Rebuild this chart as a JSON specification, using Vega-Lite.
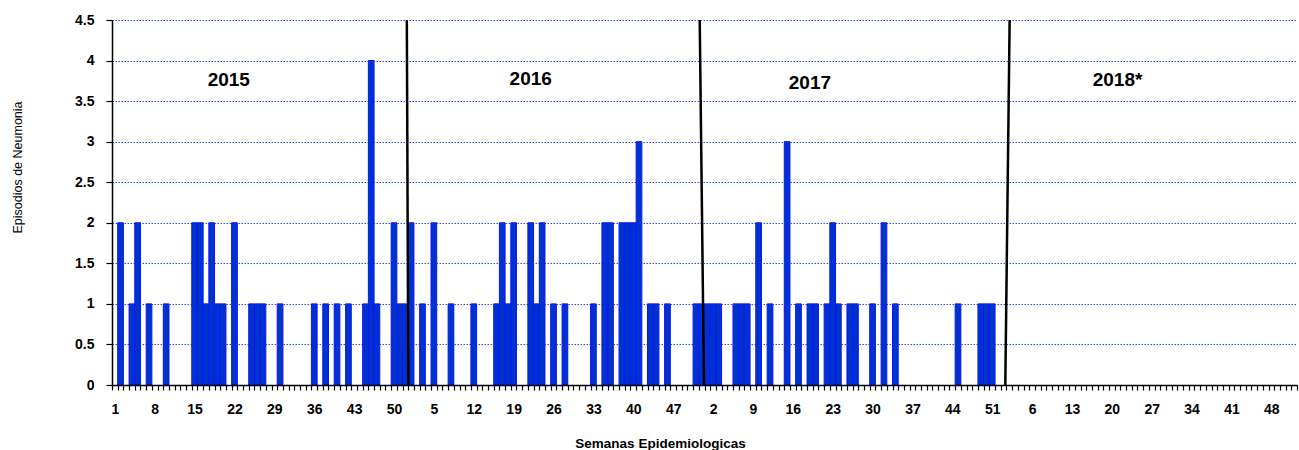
{
  "$schema": "https://vega.github.io/schema/vega-lite/v6.json",
  "width": 1185,
  "height": 365,
  "autosize": "none",
  "padding": {"left": 112, "top": 20, "right": 2, "bottom": 65},
  "background": "white",
  "config": {"view": {"stroke": null}, "font": "Liberation Sans"},
  "datasets": {
    "semanas": [
        {"k":"2015-01","v":0},{"k":"2015-02","v":2},{"k":"2015-03","v":0},{"k":"2015-04","v":1},{"k":"2015-05","v":2},{"k":"2015-06","v":0},{"k":"2015-07","v":1},{"k":"2015-08","v":0},{"k":"2015-09","v":0},{"k":"2015-10","v":1},
        {"k":"2015-11","v":0},{"k":"2015-12","v":0},{"k":"2015-13","v":0},{"k":"2015-14","v":0},{"k":"2015-15","v":2},{"k":"2015-16","v":2},{"k":"2015-17","v":1},{"k":"2015-18","v":2},{"k":"2015-19","v":1},{"k":"2015-20","v":1},
        {"k":"2015-21","v":0},{"k":"2015-22","v":2},{"k":"2015-23","v":0},{"k":"2015-24","v":0},{"k":"2015-25","v":1},{"k":"2015-26","v":1},{"k":"2015-27","v":1},{"k":"2015-28","v":0},{"k":"2015-29","v":0},{"k":"2015-30","v":1},
        {"k":"2015-31","v":0},{"k":"2015-32","v":0},{"k":"2015-33","v":0},{"k":"2015-34","v":0},{"k":"2015-35","v":0},{"k":"2015-36","v":1},{"k":"2015-37","v":0},{"k":"2015-38","v":1},{"k":"2015-39","v":0},{"k":"2015-40","v":1},
        {"k":"2015-41","v":0},{"k":"2015-42","v":1},{"k":"2015-43","v":0},{"k":"2015-44","v":0},{"k":"2015-45","v":1},{"k":"2015-46","v":4},{"k":"2015-47","v":1},{"k":"2015-48","v":0},{"k":"2015-49","v":0},{"k":"2015-50","v":2},
        {"k":"2015-51","v":1},{"k":"2015-52","v":1},
        {"k":"2016-01","v":2},{"k":"2016-02","v":0},{"k":"2016-03","v":1},{"k":"2016-04","v":0},{"k":"2016-05","v":2},{"k":"2016-06","v":0},{"k":"2016-07","v":0},{"k":"2016-08","v":1},{"k":"2016-09","v":0},{"k":"2016-10","v":0},
        {"k":"2016-11","v":0},{"k":"2016-12","v":1},{"k":"2016-13","v":0},{"k":"2016-14","v":0},{"k":"2016-15","v":0},{"k":"2016-16","v":1},{"k":"2016-17","v":2},{"k":"2016-18","v":1},{"k":"2016-19","v":2},{"k":"2016-20","v":0},
        {"k":"2016-21","v":0},{"k":"2016-22","v":2},{"k":"2016-23","v":1},{"k":"2016-24","v":2},{"k":"2016-25","v":0},{"k":"2016-26","v":1},{"k":"2016-27","v":0},{"k":"2016-28","v":1},{"k":"2016-29","v":0},{"k":"2016-30","v":0},
        {"k":"2016-31","v":0},{"k":"2016-32","v":0},{"k":"2016-33","v":1},{"k":"2016-34","v":0},{"k":"2016-35","v":2},{"k":"2016-36","v":2},{"k":"2016-37","v":0},{"k":"2016-38","v":2},{"k":"2016-39","v":2},{"k":"2016-40","v":2},
        {"k":"2016-41","v":3},{"k":"2016-42","v":0},{"k":"2016-43","v":1},{"k":"2016-44","v":1},{"k":"2016-45","v":0},{"k":"2016-46","v":1},{"k":"2016-47","v":0},{"k":"2016-48","v":0},{"k":"2016-49","v":0},{"k":"2016-50","v":0},
        {"k":"2016-51","v":1},{"k":"2016-52","v":1},
        {"k":"2017-01","v":1},{"k":"2017-02","v":1},{"k":"2017-03","v":1},{"k":"2017-04","v":0},{"k":"2017-05","v":0},{"k":"2017-06","v":1},{"k":"2017-07","v":1},{"k":"2017-08","v":1},{"k":"2017-09","v":0},{"k":"2017-10","v":2},
        {"k":"2017-11","v":0},{"k":"2017-12","v":1},{"k":"2017-13","v":0},{"k":"2017-14","v":0},{"k":"2017-15","v":3},{"k":"2017-16","v":0},{"k":"2017-17","v":1},{"k":"2017-18","v":0},{"k":"2017-19","v":1},{"k":"2017-20","v":1},
        {"k":"2017-21","v":0},{"k":"2017-22","v":1},{"k":"2017-23","v":2},{"k":"2017-24","v":1},{"k":"2017-25","v":0},{"k":"2017-26","v":1},{"k":"2017-27","v":1},{"k":"2017-28","v":0},{"k":"2017-29","v":0},{"k":"2017-30","v":1},
        {"k":"2017-31","v":0},{"k":"2017-32","v":2},{"k":"2017-33","v":0},{"k":"2017-34","v":1},{"k":"2017-35","v":0},{"k":"2017-36","v":0},{"k":"2017-37","v":0},{"k":"2017-38","v":0},{"k":"2017-39","v":0},{"k":"2017-40","v":0},
        {"k":"2017-41","v":0},{"k":"2017-42","v":0},{"k":"2017-43","v":0},{"k":"2017-44","v":0},{"k":"2017-45","v":1},{"k":"2017-46","v":0},{"k":"2017-47","v":0},{"k":"2017-48","v":0},{"k":"2017-49","v":1},{"k":"2017-50","v":1},
        {"k":"2017-51","v":1},{"k":"2017-52","v":0},
        {"k":"2018-01","v":0},{"k":"2018-02","v":0},{"k":"2018-03","v":0},{"k":"2018-04","v":0},{"k":"2018-05","v":0},{"k":"2018-06","v":0},{"k":"2018-07","v":0},{"k":"2018-08","v":0},{"k":"2018-09","v":0},{"k":"2018-10","v":0},
        {"k":"2018-11","v":0},{"k":"2018-12","v":0},{"k":"2018-13","v":0},{"k":"2018-14","v":0},{"k":"2018-15","v":0},{"k":"2018-16","v":0},{"k":"2018-17","v":0},{"k":"2018-18","v":0},{"k":"2018-19","v":0},{"k":"2018-20","v":0},
        {"k":"2018-21","v":0},{"k":"2018-22","v":0},{"k":"2018-23","v":0},{"k":"2018-24","v":0},{"k":"2018-25","v":0},{"k":"2018-26","v":0},{"k":"2018-27","v":0},{"k":"2018-28","v":0},{"k":"2018-29","v":0},{"k":"2018-30","v":0},
        {"k":"2018-31","v":0},{"k":"2018-32","v":0},{"k":"2018-33","v":0},{"k":"2018-34","v":0},{"k":"2018-35","v":0},{"k":"2018-36","v":0},{"k":"2018-37","v":0},{"k":"2018-38","v":0},{"k":"2018-39","v":0},{"k":"2018-40","v":0},
        {"k":"2018-41","v":0},{"k":"2018-42","v":0},{"k":"2018-43","v":0},{"k":"2018-44","v":0},{"k":"2018-45","v":0},{"k":"2018-46","v":0},{"k":"2018-47","v":0},{"k":"2018-48","v":0},{"k":"2018-49","v":0},{"k":"2018-50","v":0},
        {"k":"2018-51","v":0},{"k":"2018-52","v":0}
    ]
  },
  "layer": [
    {
      "data": {"name": "semanas"},
      "mark": {"type": "bar", "fill": "#0033cc", "strokeWidth": 1},
      "encoding": {
        "x": {
          "field": "k", "type": "ordinal", "sort": null,
          "scale": {"paddingInner": 0, "paddingOuter": 0},
          "axis": {
            "orient": "bottom",
            "labelExpr": "isString(datum.value) ? ((((toNumber(slice(datum.value,0,4))-2015)*52 + toNumber(slice(datum.value,5)) - 1) % 7 == 0) ? (toNumber(slice(datum.value,5)) + '') : '') : ''",
            "labelAngle": 0, "labelOverlap": false,
            "labelFont": "Liberation Sans", "labelFontSize": 14, "labelFontWeight": "bold", "labelColor": "#000000",
            "labelPadding": 12,
            "tickBand": "extent", "tickSize": 5, "tickColor": "#000000", "tickWidth": 1.2,
            "domainColor": "#000000", "domainWidth": 1.5,
            "zindex": 1,
            "title": "Semanas Epidemiologicas",
            "titleFont": "Liberation Sans", "titleFontSize": 13.5, "titleFontWeight": "bold", "titleColor": "#000000",
            "titleX": 548, "titleY": 62, "titleBaseline": "alphabetic", "titleAlign": "center"
          }
        },
        "y": {
          "field": "v", "type": "quantitative",
          "scale": {"domain": [0, 4.5], "nice": false},
          "axis": {
            "values": [0, 0.5, 1, 1.5, 2, 2.5, 3, 3.5, 4, 4.5],
            "format": "~g",
            "labelFont": "Liberation Sans", "labelFontSize": 14, "labelFontWeight": "bold", "labelColor": "#000000",
            "labelPadding": 12,
            "tickSize": 6, "tickColor": "#000000", "tickWidth": 1.2,
            "domainColor": "#000000", "domainWidth": 1.5,
            "grid": true, "gridColor": "#2a4fe0", "gridDash": [1.5, 1.5], "gridWidth": 1,
            "title": "Episodios de Neumonia",
            "titleFont": "Liberation Sans", "titleFontSize": 12.5, "titleFontWeight": "normal", "titleColor": "#000000",
            "titleAngle": -90, "titleX": -95, "titleY": 147, "titleAlign": "center", "titleBaseline": "middle"
          }
        },
        "stroke": {"condition": {"test": "datum.v > 0", "value": "#0a14ff"}, "value": null}
      }
    },
    {
      "data": {"values": [{"ka": "2015-52", "kb": "2016-01", "v": 4.5, "v2": 0}]},
      "mark": {"type": "rule", "color": "#000000", "strokeWidth": 2.5},
      "encoding": {
        "x": {"field": "ka", "type": "ordinal", "bandPosition": 0.75},
        "x2": {"field": "kb", "bandPosition": 0.01},
        "y": {"field": "v", "type": "quantitative"},
        "y2": {"field": "v2"}
      }
    },
    {
      "data": {"values": [{"ka": "2016-52", "kb": "2016-52", "v": 4.5, "v2": 0}]},
      "mark": {"type": "rule", "color": "#000000", "strokeWidth": 2.5},
      "encoding": {
        "x": {"field": "ka", "type": "ordinal", "bandPosition": 0.16},
        "x2": {"field": "kb", "bandPosition": 0.91},
        "y": {"field": "v", "type": "quantitative"},
        "y2": {"field": "v2"}
      }
    },
    {
      "data": {"values": [{"ka": "2018-02", "kb": "2018-01", "v": 4.5, "v2": 0}]},
      "mark": {"type": "rule", "color": "#000000", "strokeWidth": 2.5},
      "encoding": {
        "x": {"field": "ka", "type": "ordinal", "bandPosition": 0.56},
        "x2": {"field": "kb", "bandPosition": 0.8},
        "y": {"field": "v", "type": "quantitative"},
        "y2": {"field": "v2"}
      }
    },
    {
      "data": {"values": [
        {"k": "2015-21", "v": 3.76, "t": "2015"},
        {"k": "2016-22", "v": 3.77, "t": "2016"},
        {"k": "2017-19", "v": 3.72, "t": "2017"},
        {"k": "2018-21", "v": 3.76, "t": "2018*"}
      ]},
      "mark": {"type": "text", "font": "Liberation Sans", "fontSize": 19, "fontWeight": "bold", "color": "#000000", "align": "center", "baseline": "middle"},
      "encoding": {
        "x": {"field": "k", "type": "ordinal", "bandPosition": 0.5},
        "y": {"field": "v", "type": "quantitative"},
        "text": {"field": "t"}
      }
    }
  ]
}
